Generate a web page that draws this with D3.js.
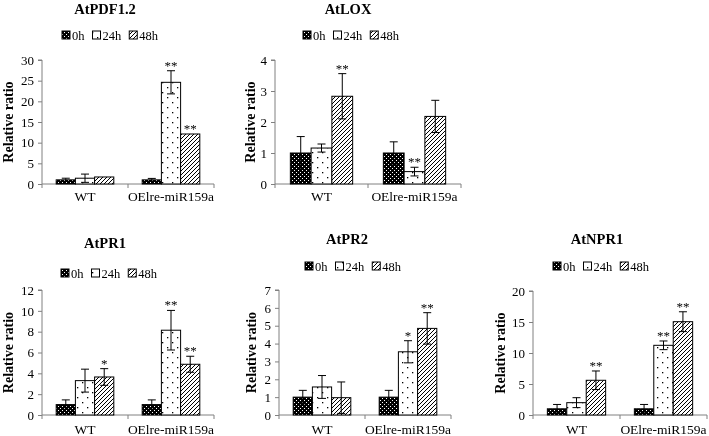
<!DOCTYPE html>
<html>
<head>
<meta charset="utf-8">
<script src="https://cdn.jsdelivr.net/npm/d3@7"></script>
<style>
  html, body { margin: 0; padding: 0; background: #fff; }
  svg { display: block; will-change: transform; -webkit-font-smoothing: antialiased; }
</style>
</head>
<body>
<svg id="chart" width="709" height="436"></svg>
<script>
// ---------------- data ----------------
const groups = ["WT", "OElre-miR159a"];
const series = ["0h", "24h", "48h"];
const genes = ["AtPDF1.2", "AtLOX", "AtPR1", "AtPR2", "AtNPR1"];
const yMaxes = [30, 4, 12, 7, 20];
const yTickSteps = [5, 1, 2, 1, 5];
const yLabel = "Relative ratio";

// means [group][series]
const pdf12Mean = [[1.0, 1.4, 1.7], [1.0, 24.6, 12.1]];
const pdf12Err  = [[0.4, 1.0, 0.0], [0.35, 2.8, 0.0]];
const pdf12Sig  = [["", "", ""], ["", "**", "**"]];

const loxMean = [[1.0, 1.16, 2.83], [1.0, 0.4, 2.18]];
const loxErr  = [[0.53, 0.13, 0.73], [0.36, 0.14, 0.52]];
const loxSig  = [["", "", "**"], ["", "**", ""]];

const pr1Mean = [[1.0, 3.3, 3.65], [1.0, 8.14, 4.87]];
const pr1Err  = [[0.45, 1.1, 0.8], [0.45, 1.9, 0.77]];
const pr1Sig  = [["", "", "*"], ["", "**", "**"]];

const pr2Mean = [[1.0, 1.57, 0.97], [1.0, 3.54, 4.85]];
const pr2Err  = [[0.38, 0.64, 0.88], [0.38, 0.62, 0.88]];
const pr2Sig  = [["", "", ""], ["", "*", "**"]];

const npr1Mean = [[1.0, 1.99, 5.6], [1.0, 11.24, 15.05]];
const npr1Err  = [[0.7, 0.8, 1.5], [0.7, 0.7, 1.6]];
const npr1Sig  = [["", "", "**"], ["", "**", "**"]];

const means = [pdf12Mean, loxMean, pr1Mean, pr2Mean, npr1Mean];
const errs  = [pdf12Err, loxErr, pr1Err, pr2Err, npr1Err];
const sigs  = [pdf12Sig, loxSig, pr1Sig, pr2Sig, npr1Sig];

// ---------------- layout (pixels) ----------------
const layout = [
  { x0: 42,  x1: 214, yTop: 60,  yBot: 184, titleX: 105, titleY: 14,  legY: 35,  legX: 62,  labX: 9,   xLabY: 201 },
  { x0: 275, x1: 461, yTop: 60,  yBot: 184, titleX: 348, titleY: 14,  legY: 35,  legX: 303, labX: 251, xLabY: 201 },
  { x0: 42,  x1: 214, yTop: 290, yBot: 415, titleX: 105, titleY: 248, legY: 273, legX: 61,  labX: 9,   xLabY: 434 },
  { x0: 279, x1: 451, yTop: 290, yBot: 415, titleX: 347, titleY: 244, legY: 266, legX: 305, labX: 252, xLabY: 434 },
  { x0: 533, x1: 707, yTop: 291, yBot: 415, titleX: 597, titleY: 244, legY: 266, legX: 553, labX: 501, xLabY: 434 }
];

const FONT = "Liberation Serif";
const axisColor = "#808080";
const svg = d3.select("#chart");

// ---------------- patterns ----------------
const defs = svg.append("defs");
// 0h: black with white dots
const p0 = defs.append("pattern").attr("id", "pat0h").attr("patternUnits", "userSpaceOnUse")
  .attr("width", 4).attr("height", 4);
p0.append("rect").attr("width", 4).attr("height", 4).attr("fill", "#000");
p0.append("rect").attr("x", 0).attr("y", 0).attr("width", 1).attr("height", 1).attr("fill", "#fff");
p0.append("rect").attr("x", 2).attr("y", 2).attr("width", 1).attr("height", 1).attr("fill", "#fff");
// 24h: white with sparse black dots
const p1 = defs.append("pattern").attr("id", "pat24h").attr("patternUnits", "userSpaceOnUse")
  .attr("width", 10).attr("height", 10);
p1.append("rect").attr("width", 10).attr("height", 10).attr("fill", "#fff");
p1.append("rect").attr("x", 2).attr("y", 2).attr("width", 1.3).attr("height", 1.3).attr("fill", "#000");
p1.append("rect").attr("x", 7).attr("y", 7).attr("width", 1.3).attr("height", 1.3).attr("fill", "#000");
// 48h: diagonal hatch
const p2 = defs.append("pattern").attr("id", "pat48h").attr("patternUnits", "userSpaceOnUse")
  .attr("width", 4).attr("height", 4);
p2.append("rect").attr("width", 4).attr("height", 4).attr("fill", "#fff");
p2.append("path").attr("d", "M-1,1 L1,-1 M0,4 L4,0 M3,5 L5,3").attr("stroke", "#000").attr("stroke-width", 1);

const fills = { "0h": "url(#pat0h)", "24h": "url(#pat24h)", "48h": "url(#pat48h)" };

function txt(sel) {
  return sel.style("font-family", FONT).style("fill", "#000");
}

// ---------------- panels ----------------
genes.forEach((gene, gi) => {
  const L = layout[gi];
  const g = svg.append("g");

  const x = d3.scaleBand().domain(groups).range([L.x0, L.x1])
    .paddingInner(0.33).paddingOuter(0.165);
  const xs = d3.scaleBand().domain(series).range([0, x.bandwidth()]);
  const y = d3.scaleLinear().domain([0, yMaxes[gi]]).range([L.yBot, L.yTop]);
  const ticks = d3.range(0, yMaxes[gi] + 1e-9, yTickSteps[gi]);

  // y axis
  const yAxis = g.append("g").attr("transform", `translate(${L.x0},0)`)
    .call(d3.axisLeft(y).tickValues(ticks).tickSize(4).tickPadding(4).tickFormat(d3.format("d")));
  yAxis.style("font-family", FONT);
  yAxis.select(".domain").attr("stroke", axisColor).attr("d", `M-4,${L.yTop}H0V${L.yBot}`);
  yAxis.selectAll(".tick line").attr("stroke", axisColor);
  txt(yAxis.selectAll(".tick text")).style("font-size", "13px");

  // x axis: line with ticks at group boundaries
  const bounds = [L.x0, (L.x0 + L.x1) / 2, L.x1];
  g.append("line").attr("x1", L.x0).attr("x2", L.x1).attr("y1", L.yBot).attr("y2", L.yBot)
    .attr("stroke", axisColor);
  g.selectAll(".xt").data(bounds).enter().append("line")
    .attr("x1", d => d).attr("x2", d => d).attr("y1", L.yBot).attr("y2", L.yBot + 4)
    .attr("stroke", axisColor);
  txt(g.selectAll(".xl").data(groups).enter().append("text"))
    .attr("x", d => x(d) + x.bandwidth() / 2).attr("y", L.xLabY)
    .attr("text-anchor", "middle").style("font-size", "13.5px").text(d => d);

  // bars
  const recs = [];
  groups.forEach((grp, a) => series.forEach((s, b) => {
    recs.push({ grp, s, v: means[gi][a][b], e: errs[gi][a][b], sig: sigs[gi][a][b] });
  }));
  g.selectAll(".bar").data(recs).enter().append("rect")
    .attr("x", d => x(d.grp) + xs(d.s)).attr("width", xs.bandwidth())
    .attr("y", d => y(d.v)).attr("height", d => y(0) - y(d.v))
    .attr("fill", d => fills[d.s]).attr("stroke", "#000").attr("stroke-width", 1);

  // error bars
  const eb = recs.filter(d => d.e > 0);
  const cx = d => x(d.grp) + xs(d.s) + xs.bandwidth() / 2;
  g.selectAll(".ev").data(eb).enter().append("line")
    .attr("x1", cx).attr("x2", cx).attr("y1", d => y(d.v - d.e)).attr("y2", d => y(d.v + d.e))
    .attr("stroke", "#000").attr("stroke-width", 1);
  ["up", "dn"].forEach(k => {
    g.selectAll(".ec" + k).data(eb).enter().append("line")
      .attr("x1", d => cx(d) - 4).attr("x2", d => cx(d) + 4)
      .attr("y1", d => y(k === "up" ? d.v + d.e : d.v - d.e))
      .attr("y2", d => y(k === "up" ? d.v + d.e : d.v - d.e))
      .attr("stroke", "#000").attr("stroke-width", 1);
  });

  // significance stars
  txt(g.selectAll(".sig").data(recs.filter(d => d.sig)).enter().append("text"))
    .attr("x", cx).attr("y", d => y(d.v + d.e) - 1)
    .attr("text-anchor", "middle").style("font-size", "13px").text(d => d.sig);

  // title
  txt(g.append("text")).attr("x", L.titleX).attr("y", L.titleY).attr("text-anchor", "middle")
    .style("font-size", "14.5px").style("font-weight", "bold").text(gene);

  // y label
  txt(g.append("text")).attr("transform", `translate(${L.labX + 4},${(L.yTop + L.yBot) / 2}) rotate(-90)`)
    .attr("text-anchor", "middle").style("font-size", "14px").style("font-weight", "bold").text(yLabel);

  // legend
  let lx = L.legX;
  series.forEach(s => {
    g.append("rect").attr("x", lx).attr("y", L.legY - 4).attr("width", 8).attr("height", 8)
      .attr("fill", fills[s]).attr("stroke", "#000").attr("stroke-width", 1);
    const t = txt(g.append("text")).attr("x", lx + 10).attr("y", L.legY + 4.5)
      .style("font-size", "12.5px").text(s);
    lx += 10 + t.node().getComputedTextLength() + 8;
  });
});
</script>
</body>
</html>
